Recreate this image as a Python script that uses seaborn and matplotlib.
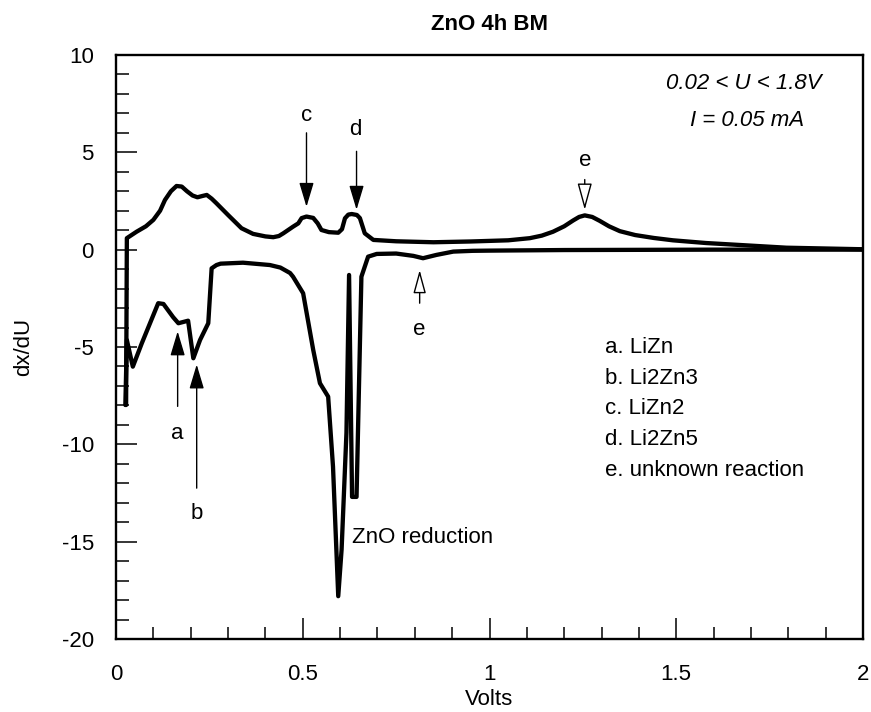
import pandas as pd
import seaborn as sns
import matplotlib.pyplot as plt
from matplotlib.ticker import MultipleLocator

# charge branch (low -> high voltage)
charge_v = [0.027, 0.029, 0.055, 0.08, 0.10, 0.118, 0.131, 0.147, 0.162, 0.176,
            0.19, 0.205, 0.218, 0.232, 0.243, 0.256, 0.269, 0.30, 0.336, 0.367,
            0.40, 0.421, 0.436, 0.448, 0.474, 0.488, 0.497, 0.51, 0.528, 0.54,
            0.55, 0.57, 0.595, 0.605, 0.613, 0.622, 0.631, 0.645, 0.653, 0.66,
            0.666, 0.689, 0.75, 0.85, 0.95, 1.05, 1.108, 1.14, 1.17, 1.20,
            1.224, 1.24, 1.255, 1.275, 1.295, 1.32, 1.349, 1.39, 1.44, 1.491,
            1.58, 1.67, 1.795, 2.0]
charge_dxdu = [-7.98, 0.59, 0.92, 1.2, 1.53, 2.0, 2.55, 3.0, 3.27, 3.24,
               3.0, 2.78, 2.69, 2.76, 2.81, 2.62, 2.38, 1.78, 1.10, 0.81,
               0.68, 0.64, 0.70, 0.84, 1.18, 1.35, 1.62, 1.70, 1.63, 1.35,
               1.01, 0.90, 0.87, 1.05, 1.61, 1.80, 1.83, 1.78, 1.62, 1.20,
               0.84, 0.50, 0.43, 0.38, 0.42, 0.48, 0.59, 0.72, 0.92, 1.2,
               1.5, 1.68, 1.76, 1.68, 1.48, 1.2, 0.95, 0.75, 0.6, 0.48,
               0.34, 0.24, 0.10, 0.02]

# discharge branch (high -> low voltage)
discharge_v = [2.0, 1.6, 1.2, 1.0, 0.955, 0.903, 0.858, 0.822, 0.796, 0.75,
               0.698, 0.675, 0.657, 0.644, 0.632, 0.624, 0.617, 0.604, 0.595, 0.581,
               0.568, 0.546, 0.528, 0.501, 0.474, 0.466, 0.44, 0.412, 0.34, 0.28,
               0.269, 0.256, 0.247, 0.225, 0.207, 0.193, 0.167, 0.153, 0.127, 0.113,
               0.091, 0.069, 0.045, 0.029, 0.025]
discharge_dxdu = [0.0, 0.0, -0.02, -0.05, -0.06, -0.10, -0.27, -0.44, -0.32, -0.20,
                  -0.22, -0.36, -1.39, -12.7, -12.7, -1.3, -9.4, -15.4, -17.8, -11.15,
                  -7.55, -6.86, -5.15, -2.24, -1.39, -1.20, -0.92, -0.79, -0.67, -0.72,
                  -0.79, -0.96, -3.78, -4.64, -5.58, -3.65, -3.78, -3.47, -2.79, -2.75,
                  -3.78, -4.81, -6.01, -4.64, -7.98]

phases = ["a. LiZn", "b. Li2Zn3", "c. LiZn2", "d. Li2Zn5", "e. unknown reaction"]

df = pd.concat([
    pd.DataFrame({"Volts": charge_v, "dxdU": charge_dxdu, "branch": "charge"}),
    pd.DataFrame({"Volts": discharge_v, "dxdU": discharge_dxdu, "branch": "discharge"}),
])

sns.set_style("ticks")
plt.rcParams["font.family"] = ["Liberation Sans", "DejaVu Sans"]
plt.rcParams["axes.unicode_minus"] = False
for k in ["text.color", "axes.labelcolor", "axes.edgecolor", "xtick.color", "ytick.color"]:
    plt.rcParams[k] = "black"

fs = 16

fig = plt.figure(figsize=(8.71, 7.12), dpi=100)
ax = fig.add_axes([0.1332, 0.1025, 0.8576, 0.8203])

sns.lineplot(data=df, x="Volts", y="dxdU", units="branch", estimator=None,
             sort=False, color="black", lw=3.1, ax=ax)

ax.set_xlim(0, 2)
ax.set_ylim(-20, 10)
ax.set_xticks([0, 0.5, 1, 1.5, 2])
ax.set_xticklabels(["0", "0.5", "1", "1.5", "2"])
ax.set_yticks([-20, -15, -10, -5, 0, 5, 10])
ax.xaxis.set_minor_locator(MultipleLocator(0.1))
ax.yaxis.set_minor_locator(MultipleLocator(1))
ax.tick_params(which="both", direction="in", top=False, right=False, width=1.1, labelsize=fs)
ax.tick_params(which="major", length=15)
ax.tick_params(which="minor", length=9)
ax.tick_params(axis="x", pad=18)
ax.tick_params(axis="y", pad=16)
for s in ax.spines.values():
    s.set_linewidth(1.7)

ax.set_xlabel("Volts", fontsize=fs, labelpad=3)
ax.set_ylabel("dx/dU", fontsize=fs, labelpad=20)
ax.set_title("ZnO 4h BM", fontsize=fs, fontweight="bold", pad=18)

filled = dict(arrowstyle="-|>,head_length=1.0,head_width=0.3", color="black",
              lw=1, shrinkA=0, shrinkB=0)
hollow = dict(arrowstyle="-|>,head_length=1.1,head_width=0.3", facecolor="white",
              edgecolor="black", lw=1, shrinkA=0, shrinkB=0)

ax.annotate("", xy=(0.51, 2.2), xytext=(0.51, 6.0), arrowprops=filled, fontsize=15)
ax.text(0.51, 6.9, "c", fontsize=fs, ha="center", va="center")
ax.annotate("", xy=(0.644, 2.05), xytext=(0.644, 5.05), arrowprops=filled, fontsize=15)
ax.text(0.642, 6.15, "d", fontsize=fs, ha="center", va="center")
ax.annotate("", xy=(1.255, 2.05), xytext=(1.255, 3.6), arrowprops=hollow, fontsize=15)
ax.text(1.255, 4.6, "e", fontsize=fs, ha="center", va="center")
ax.annotate("", xy=(0.813, -1.05), xytext=(0.813, -2.75), arrowprops=hollow, fontsize=13)
ax.text(0.813, -4.12, "e", fontsize=fs, ha="center", va="center")
ax.annotate("", xy=(0.165, -4.2), xytext=(0.165, -8.05), arrowprops=filled, fontsize=15)
ax.text(0.163, -9.43, "a", fontsize=fs, ha="center", va="center")
ax.annotate("", xy=(0.216, -5.9), xytext=(0.216, -12.25), arrowprops=filled, fontsize=15)
ax.text(0.216, -13.55, "b", fontsize=fs, ha="center", va="center")

ax.text(0.633, -14.8, "ZnO reduction", fontsize=fs, ha="left", va="center")

ax.text(1.68, 8.55, "0.02 < U < 1.8V", fontsize=fs, style="italic", ha="center", va="center")
ax.text(1.69, 6.65, "I = 0.05 mA", fontsize=fs, style="italic", ha="center", va="center")

for i, p in enumerate(phases):
    ax.text(1.308, -5.04 - 1.57 * i, p, fontsize=fs, ha="left", va="center")

fig.savefig("out.png", dpi=100)
